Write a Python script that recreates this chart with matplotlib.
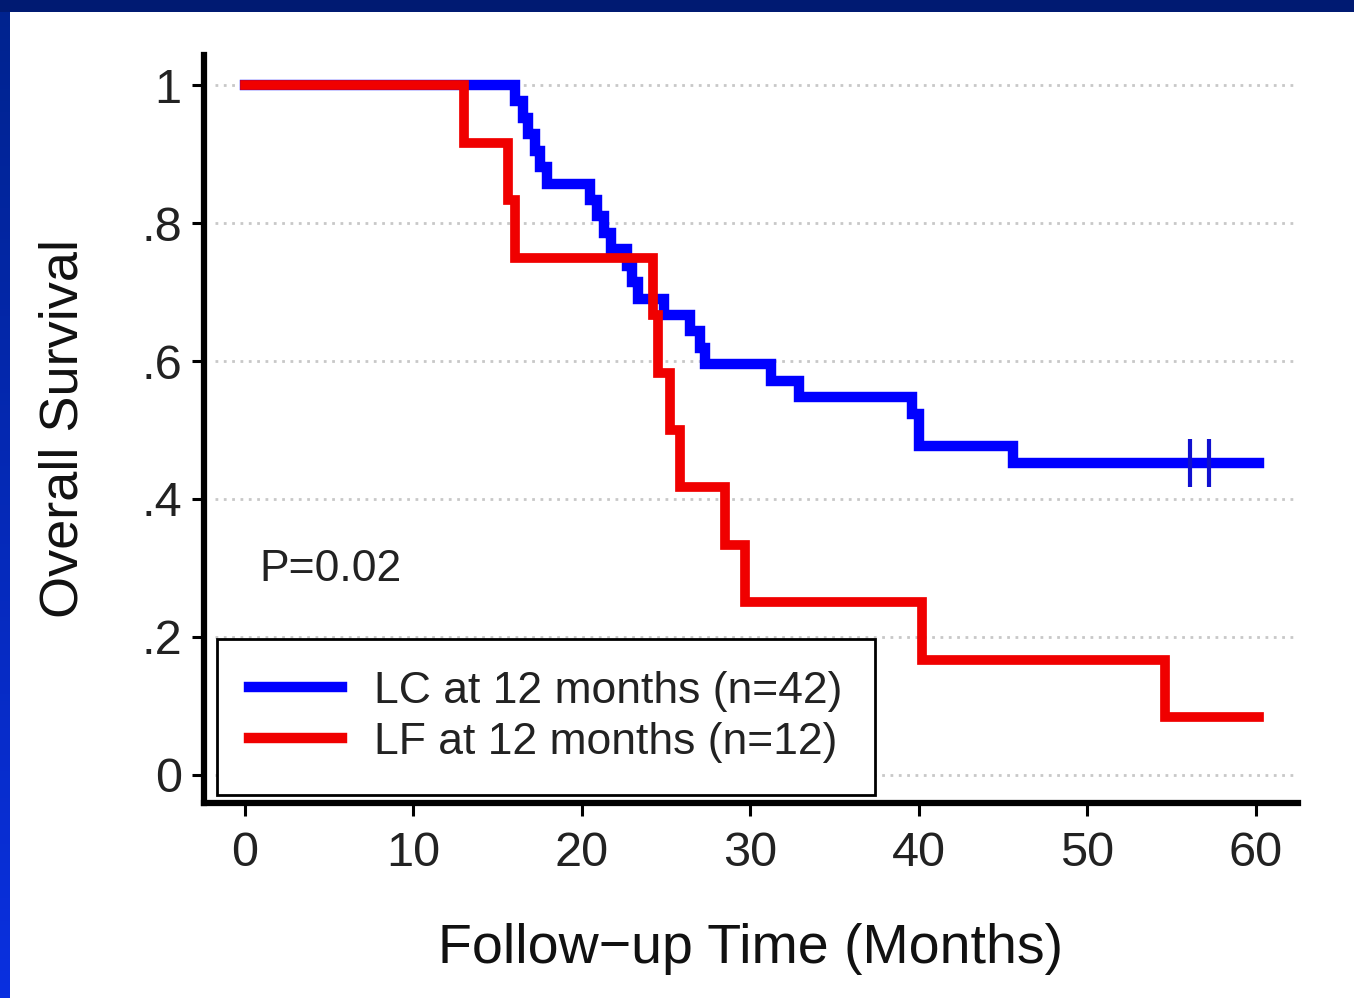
import numpy as np
import matplotlib
matplotlib.use("Agg")
import matplotlib.pyplot as plt
from matplotlib.colors import LinearSegmentedColormap

plt.rcParams['font.family'] = ['Liberation Sans', 'DejaVu Sans']

# LC at 12 months (n=42): event times and number surviving after each step
lc_times = [0, 16.0, 16.5, 16.8, 17.2, 17.5, 17.9, 20.5, 20.9, 21.3, 21.7, 22.7, 23.0, 23.3,
            24.9, 26.4, 27.0, 27.3, 31.2, 32.9, 39.6, 40.0, 45.6, 60.2]
lc_surv = [42, 41, 40, 39, 38, 37, 36, 35, 34, 33, 32, 31, 30, 29,
           28, 27, 26, 25, 24, 23, 22, 20, 19, 19]
lc_n = 42
lc_censor = [56.1, 57.2]

# LF at 12 months (n=12)
lf_times = [0, 13.0, 15.6, 16.0, 24.2, 24.5, 25.2, 25.8, 28.5, 29.7, 40.2, 54.6, 60.2]
lf_surv = [12, 11, 10, 9, 8, 7, 6, 5, 4, 3, 2, 1, 1]
lf_n = 12

y_ticks = [0, 0.2, 0.4, 0.6, 0.8, 1.0]
y_ticklabels = ['0', '.2', '.4', '.6', '.8', '1']
x_ticks = [0, 10, 20, 30, 40, 50, 60]

W, H = 1354, 998
fig = plt.figure(figsize=(W / 100, H / 100), dpi=100)
fig.patch.set_facecolor('white')

# Frame: dark top band and gradient left band
top = fig.add_axes([0, 1 - 12 / H, 1, 12 / H])
top.set_facecolor('#001a72')
top.set_xticks([]); top.set_yticks([])
for s in top.spines.values():
    s.set_visible(False)
left = fig.add_axes([0, 0, 10 / W, 1 - 12 / H])
grad = np.linspace(0, 1, 256).reshape(-1, 1)
cmap = LinearSegmentedColormap.from_list('b', ['#0a30e0', '#00238f'])
left.imshow(grad, aspect='auto', cmap=cmap, origin='lower')
left.set_xticks([]); left.set_yticks([])
for s in left.spines.values():
    s.set_visible(False)

ax = fig.add_axes([204 / W, (H - 803) / H, (1298 - 204) / W, (803 - 55) / H])
ax.set_xlim(-2.43, 62.5)
ax.set_ylim(-0.0406, 1.0435)

for y in y_ticks:
    ax.axhline(y, xmin=0.01, xmax=1.0, color='#c8c8c8', lw=2, ls=(0, (1, 2)), zorder=1)

lc_y = [s / lc_n for s in lc_surv]
lf_y = [s / lf_n for s in lf_surv]
ax.step(lc_times, lc_y, where='post', color='#0000ff', lw=7.5, solid_joinstyle='miter',
        label='LC at 12 months (n=42)', zorder=3)
ax.step(lf_times, lf_y, where='post', color='#f00000', lw=7, solid_joinstyle='miter',
        label='LF at 12 months (n=12)', zorder=4)
ax.plot(lc_censor, [lc_surv[-1] / lc_n] * len(lc_censor), ls='none', marker='|',
        markersize=34, markeredgewidth=3, color='#1010d0', zorder=5)

for side in ['top', 'right']:
    ax.spines[side].set_visible(False)
for side in ['left', 'bottom']:
    ax.spines[side].set_linewidth(4.5)
    ax.spines[side].set_color('black')

ax.set_yticks(y_ticks)
ax.set_yticklabels(y_ticklabels)
ax.set_xticks(x_ticks)
ax.tick_params(axis='both', length=9, width=2.2, colors='black', labelcolor='#222222',
               labelsize=35, pad=7)
ax.tick_params(axis='x', pad=11)

ax.set_xlabel('Follow\u2212up Time (Months)', fontsize=40, labelpad=34, color='#111111')
ax.set_ylabel('Overall Survival', fontsize=39, labelpad=38, color='#111111')

ax.text(0.88, 0.298, 'P=0.02', fontsize=32, color='#222222', va='center', ha='left')

leg = ax.legend(loc='lower left', bbox_to_anchor=(0.012, 0.011), fontsize=32,
                frameon=True, fancybox=False, edgecolor='black', framealpha=1,
                handlelength=2.1, handletextpad=0.72, borderpad=0.72,
                labelspacing=0.22, borderaxespad=0)
leg.get_frame().set_linewidth(2)
for t in leg.get_texts():
    t.set_color('#222222')
for l in leg.get_lines():
    l.set_linewidth(7.5)

fig.savefig('out.png', dpi=100)
